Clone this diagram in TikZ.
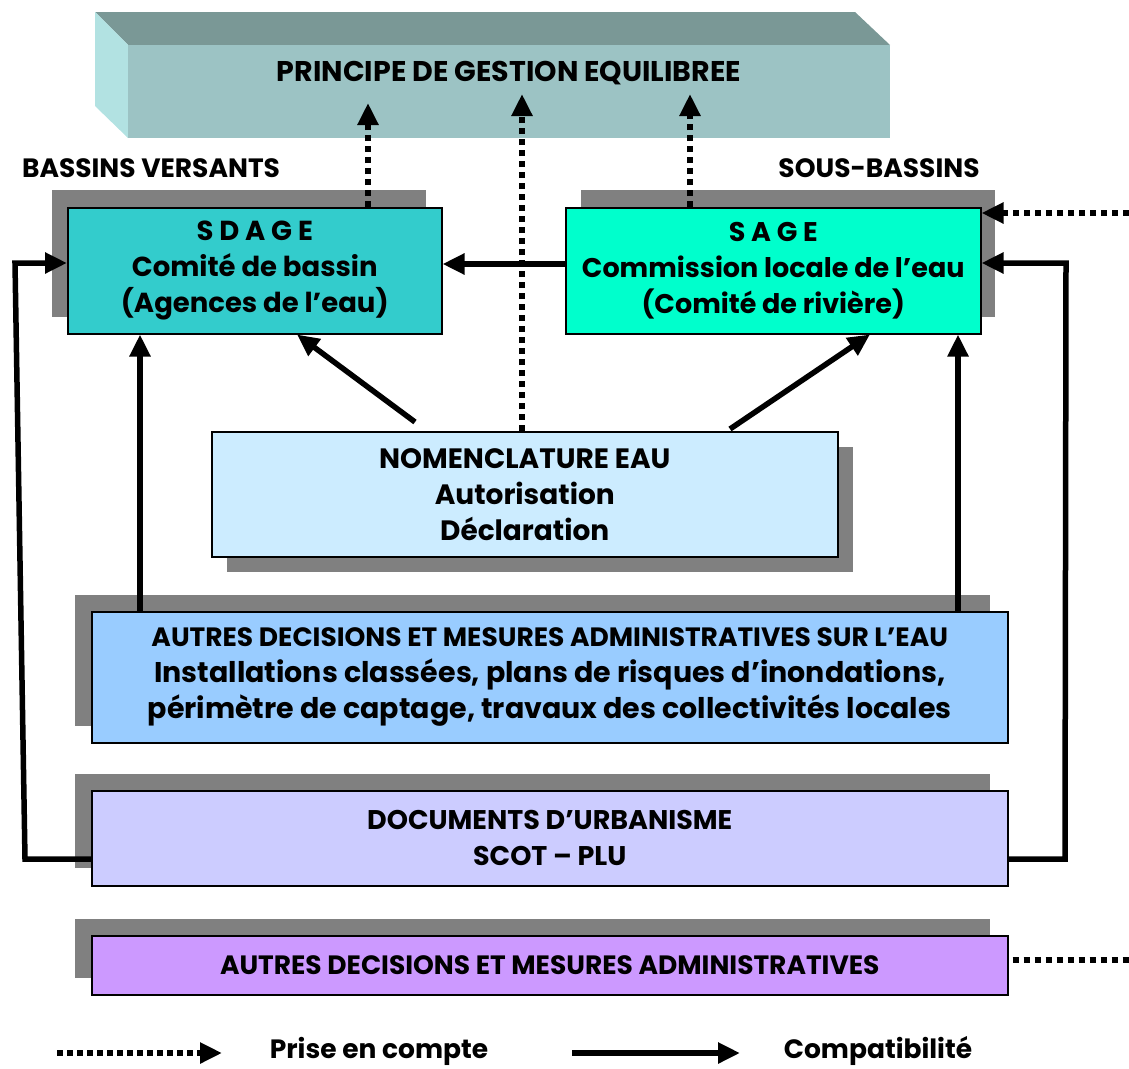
\documentclass[tikz,border=0pt]{standalone}
\usepackage{fontspec}
\setmainfont{Poppins}
\usetikzlibrary{arrows.meta,calc}
\definecolor{topface}{HTML}{7A9896}
\definecolor{frontface}{HTML}{9CC3C4}
\definecolor{sideface}{HTML}{B2E2E2}
\definecolor{shadowc}{HTML}{808080}
\definecolor{sdagec}{HTML}{33CCCC}
\definecolor{sagec}{HTML}{00FFCC}
\definecolor{nomenc}{HTML}{CCECFF}
\definecolor{eauc}{HTML}{99CCFF}
\definecolor{docsc}{HTML}{CCCCFF}
\definecolor{autresc}{HTML}{CC99FF}
\newcommand{\fs}[1]{\fontsize{#1}{36}\selectfont}
\begin{document}
\begin{tikzpicture}[x=1pt,y=-1pt,
  box/.style={draw=black, line width=1.5pt, align=center, inner sep=0pt, anchor=north west,
    font=\bfseries\fs{26.5}},
  lbl/.style={font=\bfseries\fs{26.5}, inner sep=0pt},
  solidarr/.style={line width=5.5pt, -{Triangle[length=22pt,width=20pt]}},
  dotarr/.style={line width=5.5pt, dash pattern=on 6pt off 5pt, -{Triangle[length=22pt,width=20pt]}},
  dotline/.style={line width=5.5pt, dash pattern=on 6pt off 5pt}
]
\useasboundingbox (0,0) rectangle (1129,1068);
% 3D top box
\fill[topface] (95,12) -- (855,12) -- (890,45) -- (128,45) -- cycle;
\fill[sideface] (95,12) -- (128,45) -- (128,138) -- (95,106) -- cycle;
\fill[frontface] (128,45) rectangle (890,138);
\node[lbl, font=\bfseries\fs{28.5}] (principe) at (509,73) {PRINCIPE DE GESTION EQUILIBREE};
% labels
\node[lbl] (bv) at (151,168) {BASSINS VERSANTS};
\node[lbl] (sb) at (879,168) {SOUS-BASSINS};
% shadows
\fill[shadowc] (52,190) rectangle (426,317);
\fill[shadowc] (581,190) rectangle (995,317);
\fill[shadowc] (227,447) rectangle (853,572);
\fill[shadowc] (75,595) rectangle (990,726);
\fill[shadowc] (75,774) rectangle (990,868);
\fill[shadowc] (75,919) rectangle (990,978);
% boxes
\node[box, fill=sdagec, minimum width=374pt, minimum height=126pt, font=\bfseries\fs{27.5}] (sdage) at (67,207)
  {S D A G E\\Comité de bassin\\(Agences de l’eau)};
\node[box, fill=sagec, minimum width=415pt, minimum height=126pt, font=\bfseries\fs{27}] (sage) at (565,207)
  {S A G E\\Commission locale de l’eau\\(Comité de rivière)};
\node[box, fill=nomenc, minimum width=626pt, minimum height=125pt, font=\bfseries\fs{28}] (nomen) at (211,431)
  {NOMENCLATURE EAU\\Autorisation\\Déclaration};
\node[box, fill=eauc, minimum width=916pt, minimum height=131pt] (eau) at (91,611)
  {AUTRES DECISIONS ET MESURES ADMINISTRATIVES SUR L’EAU\\{\fs{28.5}Installations classées, plans de risques d’inondations,}\\{\fs{28.5}périmètre de captage, travaux des collectivités locales}};
\node[box, fill=docsc, minimum width=916pt, minimum height=95pt, font=\bfseries\fs{27}] (docs) at (91,790)
  {DOCUMENTS D’URBANISME\\SCOT – PLU};
\node[box, fill=autresc, minimum width=916pt, minimum height=59pt] (autres) at (91,935)
  {AUTRES DECISIONS ET MESURES ADMINISTRATIVES};
% dotted arrows up
\draw[dotarr] (sdage.north -| 368,0) -- (368,103);
\draw[dotarr] (nomen.north -| 522,0) -- (522,94);
\draw[dotarr] (sage.north -| 690,0) -- (690,94);
\coordinate (rin) at (1129,213);
\draw[dotarr] (rin) -- (sage.east |- 0,213);
\coordinate (rout) at (1129,960);
\draw[dotline] (autres.east |- 0,960) ++(4,0) -- (rout);
% solid arrows
\draw[solidarr] (sage.west |- 0,264) -- (sdage.east |- 0,264);
\draw[solidarr] (415,422) -- (sdage.south -| 297,0);
\draw[solidarr] (730,429) -- (sage.south -| 870,0);
\draw[solidarr] (eau.north -| 140,0) -- (sdage.south -| 140,0);
\draw[solidarr] (eau.north -| 958,0) -- (sage.south -| 958,0);
\draw[solidarr] (docs.west |- 0,859) -- (25,859) -- (15,263) -- (sdage.west |- 0,263);
\draw[solidarr] (docs.east |- 0,859) -- (1065,859) -- (1066,263) -- (sage.east |- 0,263);
% legend
\coordinate (l1a) at (57,1053);
\coordinate (l1b) at (222,1053);
\draw[dotarr, dash pattern=on 6pt off 4pt] (l1a) -- (l1b);
\node[lbl] (prise) at (379,1051) {Prise en compte};
\coordinate (l2a) at (572,1053);
\coordinate (l2b) at (740,1053);
\draw[solidarr] (l2a) -- (l2b);
\node[lbl] (compat) at (878,1051) {Compatibilité};
\end{tikzpicture}
\end{document}
